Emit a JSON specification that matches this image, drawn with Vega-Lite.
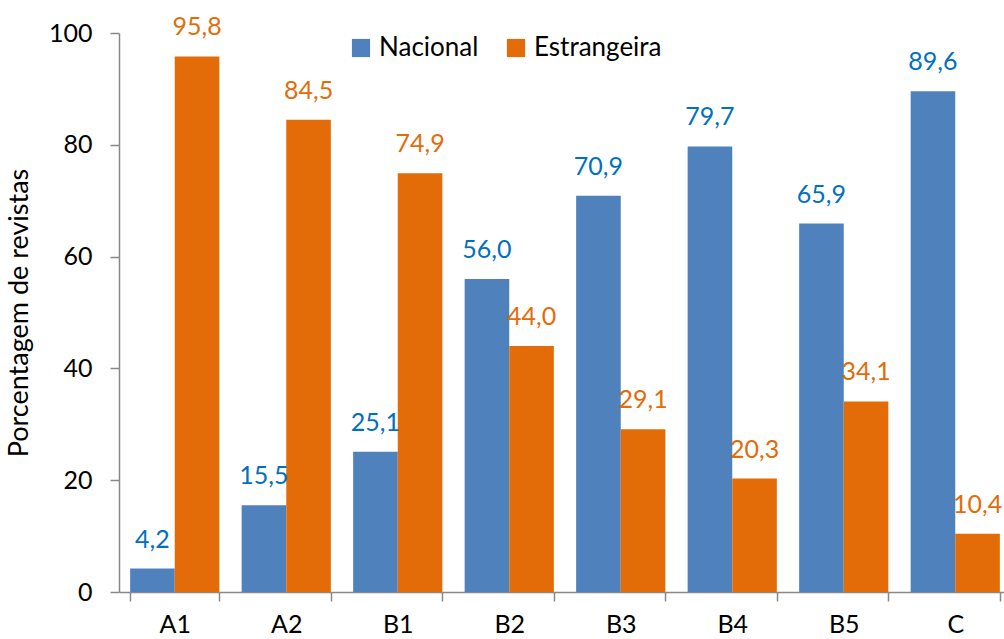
{
  "$schema": "https://vega.github.io/schema/vega-lite/v6.json",
  "width": 892,
  "height": 559,
  "autosize": {"type": "none"},
  "padding": {"left": 119, "top": 33, "right": 0, "bottom": 47},
  "background": "white",
  "config": {"view": {"stroke": null}, "font": "Lato"},
  "data": {
    "values": [
      {"cat": "A1", "tipo": "Nacional", "v": 4.2, "lbl": "4,2"},
      {"cat": "A1", "tipo": "Estrangeira", "v": 95.8, "lbl": "95,8"},
      {"cat": "A2", "tipo": "Nacional", "v": 15.5, "lbl": "15,5"},
      {"cat": "A2", "tipo": "Estrangeira", "v": 84.5, "lbl": "84,5"},
      {"cat": "B1", "tipo": "Nacional", "v": 25.1, "lbl": "25,1"},
      {"cat": "B1", "tipo": "Estrangeira", "v": 74.9, "lbl": "74,9"},
      {"cat": "B2", "tipo": "Nacional", "v": 56.0, "lbl": "56,0"},
      {"cat": "B2", "tipo": "Estrangeira", "v": 44.0, "lbl": "44,0"},
      {"cat": "B3", "tipo": "Nacional", "v": 70.9, "lbl": "70,9"},
      {"cat": "B3", "tipo": "Estrangeira", "v": 29.1, "lbl": "29,1"},
      {"cat": "B4", "tipo": "Nacional", "v": 79.7, "lbl": "79,7"},
      {"cat": "B4", "tipo": "Estrangeira", "v": 20.3, "lbl": "20,3"},
      {"cat": "B5", "tipo": "Nacional", "v": 65.9, "lbl": "65,9"},
      {"cat": "B5", "tipo": "Estrangeira", "v": 34.1, "lbl": "34,1"},
      {"cat": "C", "tipo": "Nacional", "v": 89.6, "lbl": "89,6"},
      {"cat": "C", "tipo": "Estrangeira", "v": 10.4, "lbl": "10,4"}
    ]
  },
  "encoding": {
    "x": {
      "field": "cat", "type": "nominal", "sort": null,
      "scale": {"paddingInner": 0.2, "paddingOuter": 0.1},
      "axis": {
        "title": null, "labelAngle": 0, "labelFontSize": 25, "labelColor": "#000",
        "labelPadding": 11, "tickBand": "extent", "tickSize": 9, "tickColor": "#888",
        "domainColor": "#888", "domainWidth": 1.5, "tickWidth": 1.5
      }
    },
    "xOffset": {"field": "tipo", "type": "nominal", "sort": ["Nacional", "Estrangeira"]},
    "y": {
      "field": "v", "type": "quantitative",
      "scale": {"domain": [0, 100], "nice": false},
      "axis": {
        "title": "Porcentagem de revistas", "titleFontSize": 27, "titleFontWeight": "normal",
        "titleColor": "#000", "titlePadding": 15,
        "values": [0, 20, 40, 60, 80, 100], "grid": false,
        "labelFontSize": 25, "labelColor": "#000", "labelPadding": 18,
        "tickSize": 9, "tickColor": "#888", "domainColor": "#888", "domainWidth": 1.5, "tickWidth": 1.5
      }
    }
  },
  "layer": [
    {
      "mark": {"type": "bar"},
      "encoding": {
        "color": {
          "field": "tipo", "type": "nominal",
          "scale": {"domain": ["Nacional", "Estrangeira"], "range": ["#4F81BD", "#E36C09"]},
          "legend": {
            "title": null, "orient": "none", "direction": "horizontal",
            "legendX": 229, "legendY": 2, "symbolType": "square", "symbolSize": 330,
            "symbolStrokeWidth": 0, "labelFontSize": 26, "labelColor": "#000",
            "columnPadding": 24, "labelOffset": 5
          }
        }
      }
    },
    {
      "mark": {"type": "text", "baseline": "bottom", "dy": -16, "fontSize": 25},
      "encoding": {
        "text": {"field": "lbl"},
        "color": {"field": "tipo", "type": "nominal", "scale": {"domain": ["Nacional", "Estrangeira"], "range": ["#0070C0", "#E36C09"]}, "legend": null}
      }
    }
  ],
  "resolve": {"scale": {"color": "independent"}}
}
